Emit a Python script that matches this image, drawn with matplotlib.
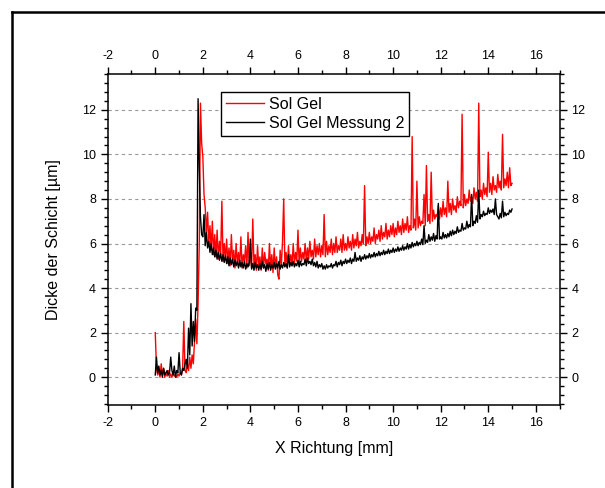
import numpy as np
import matplotlib.pyplot as plt
from matplotlib.lines import Line2D
from matplotlib.ticker import MultipleLocator

plt.rcParams["font.family"] = ["Liberation Sans", "DejaVu Sans"]
plt.rcParams["axes.unicode_minus"] = False

x_mm = np.round(np.arange(0.0, 15.001, 0.05), 2)

sol_gel = [
    2.0, 0.4, 0.1, 0.3, 0.0, 0.6, 0.1, 0.4, 0.0, 0.2, 0.05, 0.3, 0.0, 0.15, 0.0, 0.2, 0.05, 0.1, 0.0, 0.15,
    0.05, 0.2, 0.1, 0.4, 2.5, 0.3, 0.2, 0.6, 0.3, 0.9, 0.4, 1.0, 0.6, 1.6, 2.6, 1.5, 3.3, 6.0, 12.3, 10.5,
    9.9, 8.2, 7.6, 6.5, 7.4, 6.0, 6.8, 5.7, 7.0, 5.5, 6.4, 5.4, 6.6, 5.3, 6.1, 5.5, 7.9, 5.2, 6.0, 5.3,
    6.2, 5.1, 5.8, 5.0, 6.4, 5.2, 5.7, 4.9, 6.0, 5.1, 5.6, 5.0, 6.3, 4.9, 5.5, 5.2, 5.9, 4.9, 6.5, 5.0,
    5.6, 4.9, 7.1, 5.0, 5.5, 4.8, 5.9, 5.0, 5.4, 4.8, 5.8, 4.9, 5.6, 5.1, 5.3, 4.8, 6.0, 4.9, 5.5, 4.7,
    5.8, 4.9, 5.4, 4.6, 4.4, 5.7, 5.0, 6.1, 8.0, 5.0, 5.6, 4.9, 5.9, 5.1, 5.5, 5.0, 6.0, 5.1, 5.6, 5.2,
    6.6, 5.1, 5.8, 5.2, 5.6, 5.3, 6.0, 5.2, 5.8, 5.3, 6.1, 5.4, 5.7, 5.3, 6.2, 5.4, 5.9, 5.5, 6.0, 5.4,
    5.9, 5.5, 7.3, 5.4, 6.1, 5.5, 5.9, 5.6, 6.2, 5.5, 6.0, 5.6, 6.3, 5.6, 5.9, 5.7, 6.2, 5.6, 6.4, 5.7,
    6.0, 5.7, 6.3, 5.8, 6.1, 5.7, 6.4, 5.8, 6.2, 5.9, 6.5, 5.8, 6.1, 5.9, 6.4, 6.0, 8.6, 5.9, 6.3, 6.0,
    6.5, 6.0, 6.3, 6.1, 6.7, 6.0, 6.4, 6.2, 6.6, 6.1, 6.8, 6.2, 6.5, 6.3, 6.9, 6.2, 6.6, 6.3, 6.8, 6.4,
    6.9, 6.3, 6.7, 6.4, 7.0, 6.5, 6.8, 6.4, 7.1, 6.5, 6.9, 6.6, 7.2, 6.5, 6.8, 6.6, 10.8, 6.7, 7.1, 6.6,
    8.8, 6.7, 7.2, 6.8, 7.0, 6.9, 8.2, 6.8, 9.5, 7.0, 7.3, 6.9, 9.2, 7.0, 7.5, 7.1, 7.3, 7.2, 7.7, 7.1,
    7.6, 7.2, 7.9, 7.3, 7.6, 7.2, 8.8, 7.4, 7.8, 7.3, 8.0, 7.5, 7.7, 7.4, 8.1, 7.6, 7.9, 7.7, 11.8, 7.6,
    8.2, 7.7, 8.0, 7.8, 8.4, 7.9, 8.1, 7.8, 8.5, 8.0, 8.3, 7.9, 12.3, 8.1, 8.4, 8.0, 8.7, 8.2, 8.5, 8.1,
    10.1, 8.3, 8.7, 8.2, 9.0, 8.4, 8.6, 8.3, 9.1, 8.5, 8.8, 8.4, 10.9, 8.5, 8.9, 8.6, 9.2, 8.5, 9.4, 8.6,
    8.7,
]

messung_2 = [
    0.1, 0.9, 0.2, 0.5, 0.1, 0.3, 0.0, 0.4, 0.1, 0.2, 0.3, 0.1, 0.2, 0.9, 0.3, 0.1, 0.5, 0.0, 0.3, 0.2,
    1.1, 0.2, 0.1, 0.4, 0.3, 0.6, 0.8, 0.4, 2.2, 1.0, 3.3, 1.4, 2.5, 1.6, 3.1, 3.0, 12.5, 9.5, 7.2, 6.4,
    6.3, 7.3, 5.9, 6.5, 5.8, 6.1, 5.6, 6.0, 5.5, 5.8, 5.4, 5.7, 5.3, 5.6, 5.25, 5.55, 5.2, 5.5, 5.15, 5.45,
    5.1, 5.4, 5.0, 5.35, 5.05, 5.3, 4.95, 5.25, 5.0, 5.2, 4.9, 5.25, 4.95, 5.15, 4.9, 5.2, 4.85, 5.1, 4.95, 5.15,
    6.2, 4.85, 5.1, 4.8, 5.15, 4.9, 5.05, 4.8, 5.1, 4.85, 5.2, 4.9, 5.05, 4.75, 5.1, 4.85, 5.15, 4.8, 5.05, 4.9,
    5.15, 4.85, 5.1, 4.9, 5.2, 4.85, 5.05, 4.9, 5.15, 4.95, 5.1, 4.9, 5.5, 4.95, 5.15, 5.0, 5.2, 4.95, 5.1, 5.0,
    5.25, 4.95, 5.2, 5.0, 5.1, 5.05, 5.3, 5.0, 5.35, 5.1, 5.2, 5.05, 5.3, 5.0, 5.15, 4.95, 5.2, 4.9, 5.05, 4.95,
    5.1, 4.85, 5.0, 4.85, 5.05, 4.9, 5.0, 4.95, 5.1, 4.9, 5.05, 5.0, 5.2, 4.95, 5.15, 5.05, 5.25, 5.0, 5.2, 5.1,
    5.3, 5.1, 5.25, 5.15, 5.35, 5.1, 5.3, 5.2, 5.6, 5.2, 5.35, 5.25, 5.45, 5.2, 5.4, 5.3, 5.5, 5.3, 5.45, 5.35,
    5.55, 5.35, 5.5, 5.4, 5.6, 5.4, 5.55, 5.45, 5.65, 5.45, 5.6, 5.5, 5.7, 5.5, 5.65, 5.55, 5.75, 5.55, 5.7, 5.6,
    5.8, 5.6, 5.75, 5.65, 5.85, 5.65, 5.8, 5.7, 5.9, 5.7, 5.85, 5.75, 6.0, 5.75, 5.95, 5.8, 6.05, 5.85, 6.0, 5.9,
    6.1, 5.9, 6.05, 5.95, 6.2, 5.95, 6.8, 6.0, 6.15, 6.05, 6.4, 6.1, 6.3, 6.15, 6.45, 6.1, 6.35, 6.2, 7.8, 6.2,
    6.3, 6.2, 6.5, 6.25, 6.4, 6.25, 6.45, 6.3, 6.55, 6.35, 6.6, 6.4, 6.55, 6.45, 6.75, 6.5, 6.6, 6.55, 6.9, 6.6,
    6.7, 6.65, 7.0, 6.7, 6.85, 6.75, 8.2, 6.8, 7.0, 6.9, 7.25, 6.95, 8.4, 7.1, 7.3, 7.2, 7.45, 7.25, 7.35, 7.3,
    7.6, 7.35, 7.5, 7.4, 7.55, 7.3, 8.0, 7.3, 7.2, 7.1, 7.35, 7.15, 7.9, 7.2, 7.4, 7.25, 7.35, 7.3, 7.5, 7.4,
    7.55,
]

x_ticks = [-2, 0, 2, 4, 6, 8, 10, 12, 14, 16]
y_ticks = [0, 2, 4, 6, 8, 10, 12]

fig = plt.figure(figsize=(6.05, 4.88), dpi=100)
ax = fig.add_axes([0.178, 0.170, 0.747, 0.678])

ax.plot(x_mm, sol_gel, color="red", lw=1.0, label="Sol Gel", zorder=3)
ax.plot(x_mm, messung_2, color="black", lw=1.0, label="Sol Gel Messung 2", zorder=4)

ax.set_xlim(-2, 17)
ax.set_ylim(-1.25, 13.6)
ax.set_xticks(x_ticks)
ax.set_yticks(y_ticks)
ax.xaxis.set_minor_locator(MultipleLocator(1))
ax.yaxis.set_minor_locator(MultipleLocator(0.4))

ax.tick_params(which="both", direction="out", top=True, right=True,
               labeltop=True, labelright=True, labelsize=9, width=1)
ax.tick_params(which="major", length=5)
ax.tick_params(which="minor", length=3)
for s in ax.spines.values():
    s.set_linewidth(1.1)

ax.yaxis.grid(True, which="major", color="#999999", linestyle=(0, (3, 3)), lw=0.8)
ax.set_axisbelow(True)

ax.set_xlabel("X Richtung [mm]", fontsize=11.5, labelpad=9)
ax.set_ylabel("Dicke der Schicht [µm]", fontsize=11.5, labelpad=15)

leg = ax.legend(loc="upper left", bbox_to_anchor=(0.251, 0.946), fontsize=11.5,
                frameon=True, fancybox=False, edgecolor="black", framealpha=1,
                borderaxespad=0, handlelength=2.4, handletextpad=0.3,
                borderpad=0.3, labelspacing=0.25)
leg.get_frame().set_linewidth(1)

# outer frame (only left and top edges are visible in the picture)
fx, fy = 12 / 605, 1 - 12 / 488
fig.add_artist(Line2D([fx, fx], [0, fy], color="black", lw=1.8))
fig.add_artist(Line2D([fx, 1], [fy, fy], color="black", lw=1.8))

fig.savefig("out.png", dpi=100)
